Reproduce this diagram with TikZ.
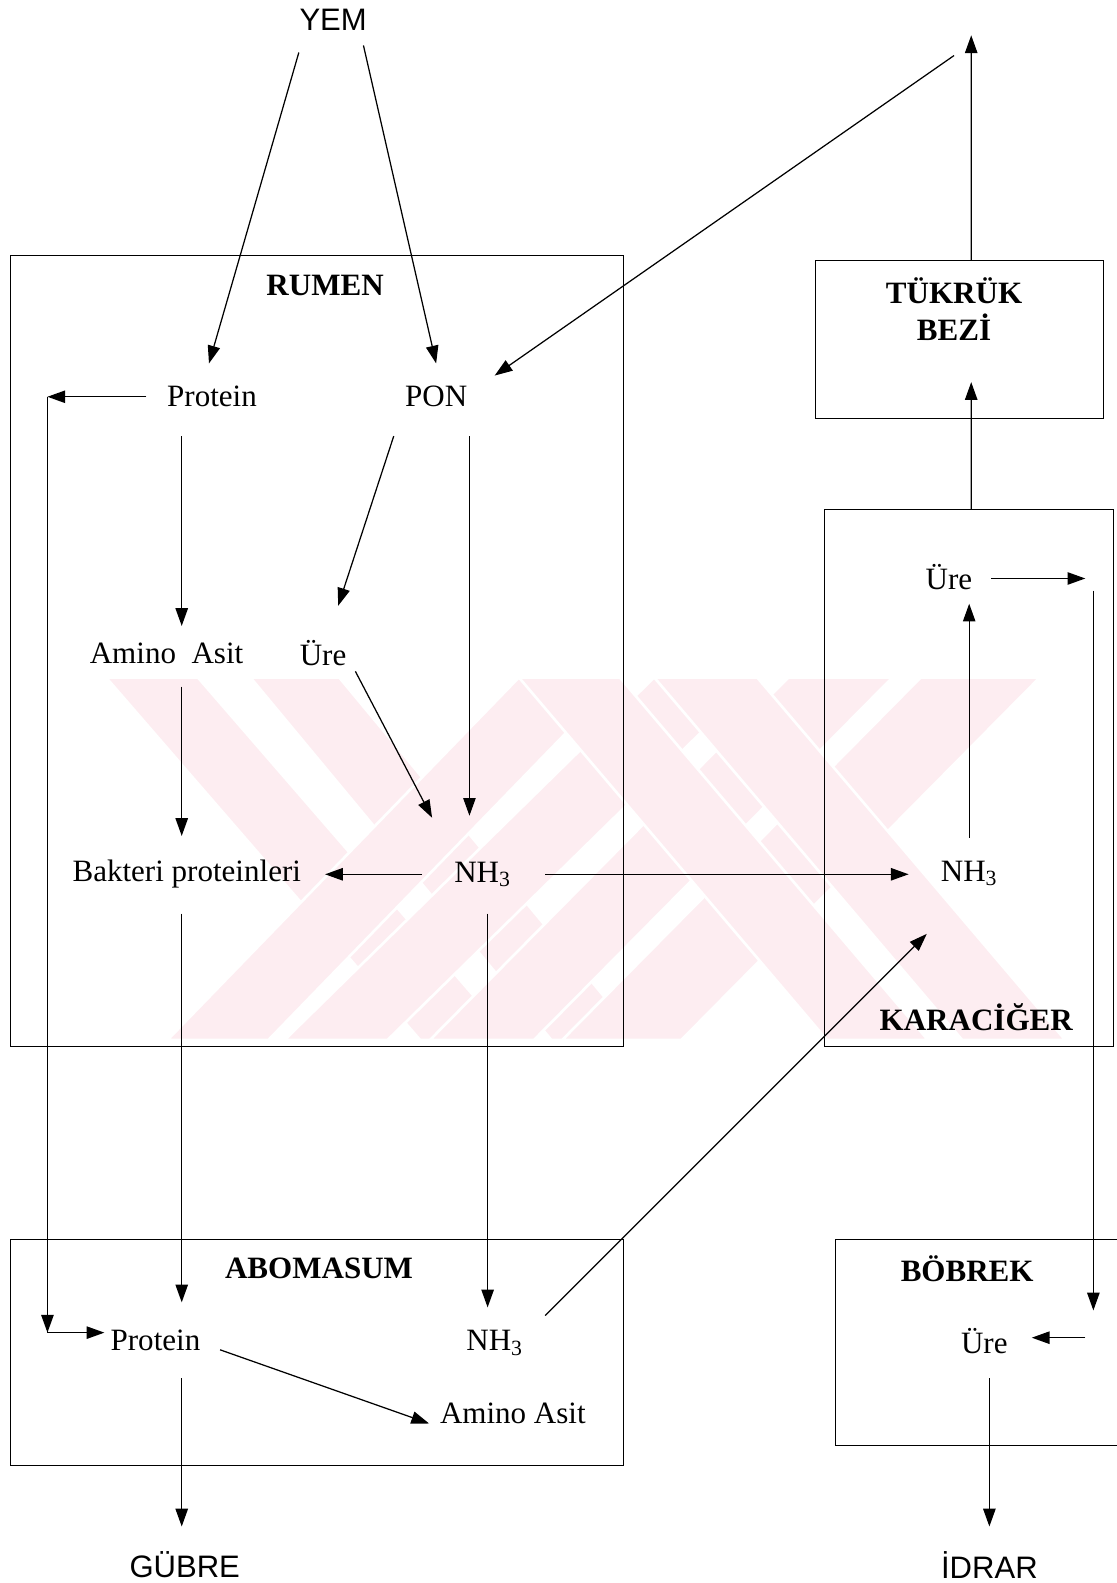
\documentclass[tikz,border=0pt]{standalone}
\usepackage{fontspec}
\setmainfont{Liberation Serif}
\newfontfamily\sansf{Liberation Sans}
\usepackage{tikz}
\usetikzlibrary{arrows.meta, positioning, calc}
\definecolor{wmpink}{HTML}{FDEDF1}

\begin{document}
\begin{tikzpicture}[
    x=0.02cm, y=-0.02cm,
    >={Triangle[length=10pt,width=7pt]},
    lbl/.style={font=\fontsize{17.5}{21}\selectfont},
    ttl/.style={font=\fontsize{17.5}{21}\selectfont\bfseries, align=center},
    sns/.style={font=\sansf\fontsize{17.5}{21}\selectfont},
    organ/.style={draw, line width=0.6pt, inner sep=0pt},
    arr/.style={->, line width=0.7pt},
    wm/.style={fill=wmpink, draw=white, line width=1.5pt},
]
    \useasboundingbox (0,0) rectangle (1106,1568);

    % watermark
    \foreach \a/\b/\c/\d in {105/196/507/416, 248/336/634/546, 514/614/266/166, 648/750/384/282,
                             781/884/529/426, 912/1030/675/557, 648/750/1055/953, 514/614/919/819}
        \filldraw[wm] (\a,671) -- (\b,671) -- (\c,1030) -- (\d,1030) -- cycle;

    % organs
    \node[organ, minimum width=12.16cm, minimum height=15.68cm] (rumen) at (314,645) {};
    \node[organ, minimum width=12.16cm, minimum height=4.48cm] (abom) at (314,1340) {};
    \node[organ, minimum width=5.7cm, minimum height=3.14cm] (tukbox) at (950.5,336.5) {};
    \node[organ, minimum width=5.72cm, minimum height=10.64cm] (kara) at (960,771) {};
    \node[organ, minimum width=5.68cm, minimum height=4.08cm] (bobrek) at (970,1330) {};

    \node[ttl] (rumenttl) at (322,283) {RUMEN};
    \node[ttl] (abomttl) at (316,1256) {ABOMASUM};
    \node[ttl] (tukttl) at (945,306) {TÜKRÜK\\BEZİ};
    \node[ttl] (karattl) at (967,1008) {KARACİĞER};
    \node[ttl] (bobttl) at (958,1257) {BÖBREK};

    % substances
    \node[sns] (yem) at (330,20) {YEM};
    \node[lbl] (protA) at (210,393) {Protein};
    \node[lbl] (pon) at (432,393) {PON};
    \node[lbl] (amino) at (165,647) {Amino\ \ Asit};
    \node[lbl] (ureA) at (320,647) {Üre};
    \node[lbl] (bakteri) at (185,866) {Bakteri proteinleri};
    \node[lbl] (nhA) at (478,866) {NH\textsubscript{3}};
    \node[lbl] (protB) at (154,1328) {Protein};
    \node[lbl] (nhB) at (490,1330) {NH\textsubscript{3}};
    \node[lbl] (aminoB) at (508,1400) {Amino Asit};
    \node[sns] (gubre) at (183,1550) {GÜBRE};
    \node[lbl] (ureK) at (940,572) {Üre};
    \node[lbl] (nhK) at (960,865) {NH\textsubscript{3}};
    \node[lbl] (ureB) at (975,1328) {Üre};
    \node[sns] (idrar) at (980,1550) {İDRAR};

    \coordinate (up) at (962,35);
    \coordinate (back) at (945,55);
    \coordinate (lc1) at (47,393);
    \coordinate (lc2) at (47,1320);
    \coordinate (rc0) at (1075,573);
    \coordinate (rc1) at (1083,585);
    \coordinate (rc2) at (1083,1298);
    \coordinate (rc3) at (1075,1325);

    % feed into rumen
    \draw[arr] ($(yem)+(-34,32)$) -- ($(protA)+(-3,-33)$);
    \draw[arr] ($(yem)+(30,25)$) -- ($(pon)+(0,-33)$);
    \draw[arr] (back) -- ($(pon)+(58,-21)$);

    % rumen
    \draw[arr] ($(protA)+(-65,0)$) -- (lc1);
    \draw[arr] (lc1) -- (lc2);
    \draw[arr] (lc2) -- (lc2 -| protB.west);
    \draw[arr] ($(protA)+(-30,39)$) -- ($(amino)+(15,-27)$);
    \draw[arr] ($(pon)+(-42,39)$) -- ($(ureA)+(15,-47)$);
    \draw[arr] ($(pon)+(33,39)$) -- ($(nhA)+(-13,-58)$);
    \draw[arr] ($(ureA)+(32,18)$) -- ($(nhA)+(-50,-56)$);
    \draw[arr] ($(amino)+(15,33)$) -- ($(bakteri)+(-5,-38)$);
    \draw[arr] ($(nhA)+(-60,0)$) -- ($(bakteri)+(137,0)$);
    \draw[arr] ($(nhA)+(62,0)$) -- ($(nhK)+(-60,1)$);
    \draw[arr] ($(bakteri)+(-5,39)$) -- ($(protB)+(26,-38)$);
    \draw[arr] ($(nhA)+(5,39)$) -- ($(nhB)+(-7,-35)$);

    % abomasum
    \draw[arr] ($(nhB)+(50,-27)$) -- ($(nhK)+(-42,60)$);
    \draw[arr] ($(protB)+(64,9)$) -- ($(aminoB)+(-83,10)$);
    \draw[arr] ($(protB)+(26,37)$) -- ($(gubre)+(-3,-38)$);

    % liver, saliva, kidney
    \draw[arr] ($(nhK)+(0,-35)$) -- ($(ureK)+(20,26)$);
    \draw[arr] ($(kara.north)+(2,0)$) -- ($(tukbox.south)+(11.5,-37)$);
    \draw[arr] ($(tukbox.north)+(11.5,0)$) -- (up);
    \draw[arr] ($(ureK)+(42,1)$) -- (rc0);
    \draw[arr] (rc1) -- (rc2);
    \draw[arr] (rc3) -- ($(ureB)+(47,-3)$);
    \draw[arr] ($(ureB)+(5,37)$) -- ($(idrar)+(0,-38)$);
\end{tikzpicture}
\end{document}
